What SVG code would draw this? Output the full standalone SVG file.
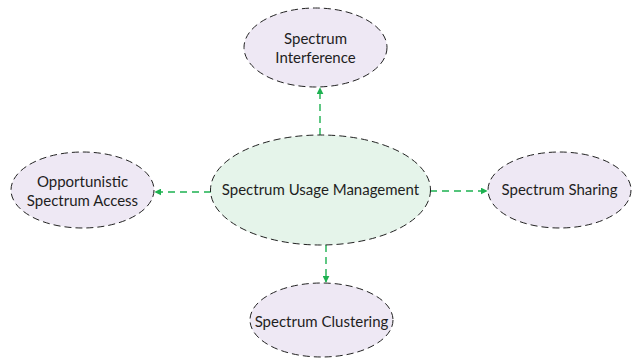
<svg xmlns="http://www.w3.org/2000/svg" width="633" height="358" viewBox="0 0 633 358">
  <style>
    .node { fill: #EEE8F4; stroke: #222; stroke-width: 1; stroke-dasharray: 7 4; }
    .hub { fill: #E5F4EA; }
    .label { font-family: Lato, "Liberation Sans", sans-serif; font-size: 15px; fill: #1E1E1E; text-anchor: middle; }
    .link { stroke: #1DB150; stroke-width: 1.4; stroke-dasharray: 7 5; fill: none; }
  </style>
  <defs>
    <marker id="arrow" viewBox="0 0 10 10" refX="9" refY="5" markerWidth="7" markerHeight="7" markerUnits="userSpaceOnUse" orient="auto">
      <path d="M0,0 L10,5 L0,10 Z" fill="#1DB150"/>
    </marker>
  </defs>
  <rect width="633" height="358" fill="#FFFFFF"/>

  <g id="connectors">
    <line class="link" x1="320" y1="135" x2="320" y2="88" marker-end="url(#arrow)"/>
    <line class="link" x1="326" y1="245" x2="326" y2="282" marker-end="url(#arrow)"/>
    <line class="link" x1="211" y1="192" x2="155" y2="192" marker-end="url(#arrow)"/>
    <line class="link" x1="430" y1="191" x2="487" y2="191" marker-end="url(#arrow)"/>
  </g>

  <g id="spectrum-usage-management">
    <ellipse class="node hub" cx="320.5" cy="190" rx="110" ry="55"/>
    <text class="label" x="320.5" y="195">Spectrum Usage Management</text>
  </g>

  <g id="spectrum-interference">
    <ellipse class="node" cx="315.5" cy="47.5" rx="71.5" ry="39.5"/>
    <text class="label" x="315.5" y="44">Spectrum</text>
    <text class="label" x="315.5" y="63">Interference</text>
  </g>

  <g id="opportunistic-spectrum-access">
    <ellipse class="node" cx="82.5" cy="190" rx="71.5" ry="38"/>
    <text class="label" x="82.5" y="187">Opportunistic</text>
    <text class="label" x="82.5" y="206">Spectrum Access</text>
  </g>

  <g id="spectrum-sharing">
    <ellipse class="node" cx="559.5" cy="190" rx="71.5" ry="38"/>
    <text class="label" x="559.5" y="195">Spectrum Sharing</text>
  </g>

  <g id="spectrum-clustering">
    <ellipse class="node" cx="321.5" cy="320" rx="71.5" ry="37"/>
    <text class="label" x="321.5" y="327">Spectrum Clustering</text>
  </g>
</svg>
